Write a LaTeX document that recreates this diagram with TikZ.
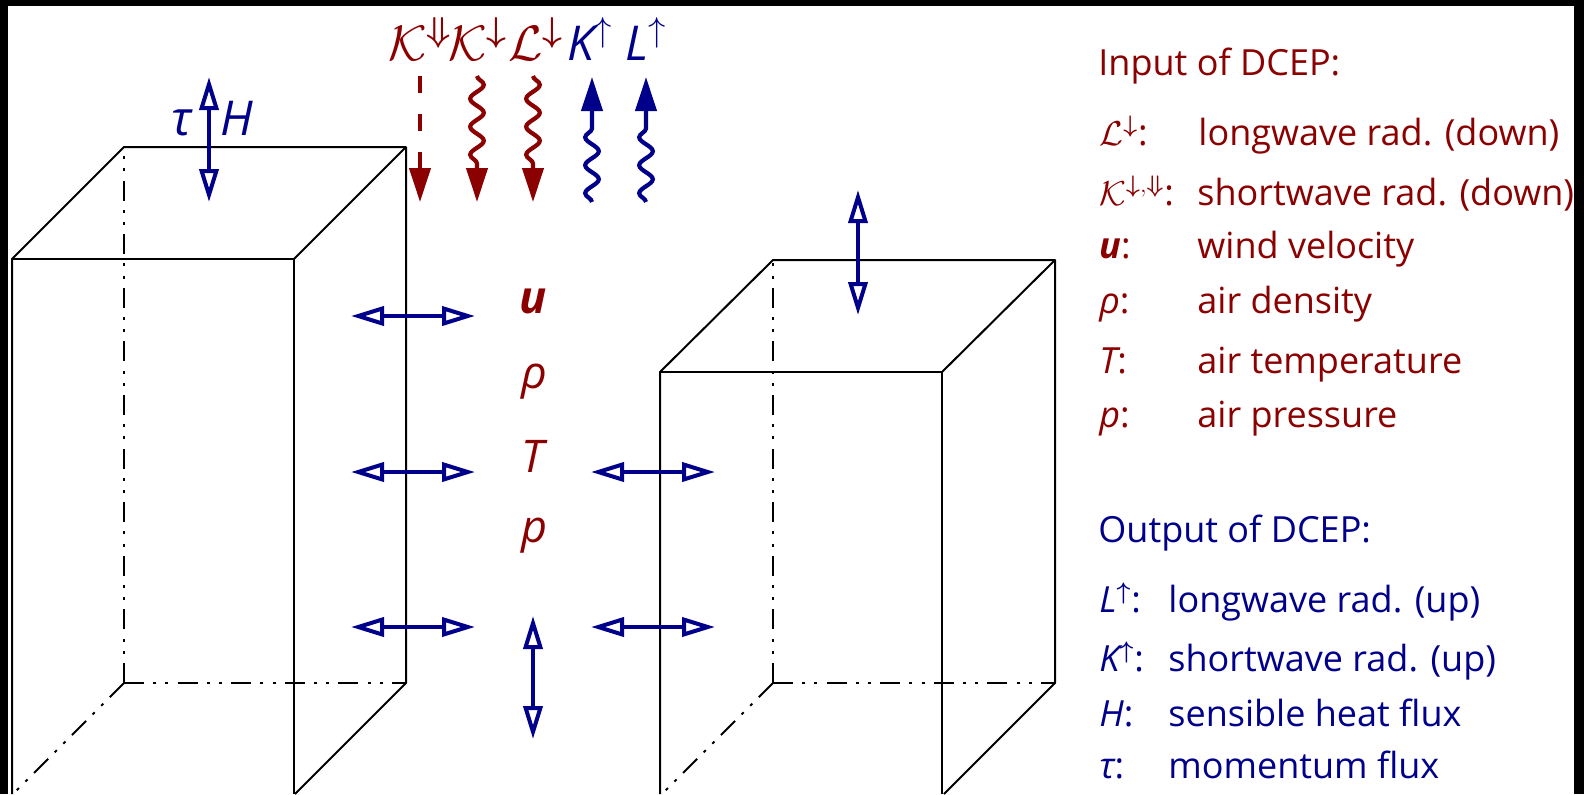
\documentclass[tikz,border=0pt]{standalone}
\usepackage{amsmath}
\usepackage{fontspec}
\setmainfont{Open Sans}
\usetikzlibrary{arrows.meta,decorations.pathmorphing}
\definecolor{inred}{HTML}{8B0000}
\definecolor{outblue}{HTML}{00008B}
\begin{document}
\begin{tikzpicture}[x=0.5pt, y=-0.5pt, font=\fontsize{18pt}{22pt}\selectfont,
      edge/.style={draw, line width=1pt, line join=round},
      hidden/.style={edge, dash pattern=on 10pt off 4.6pt on 1.5pt off 4.6pt on 1.5pt off 4.6pt},
      flux/.style={draw=outblue, line width=2.1pt, {Triangle[open, length=16.5pt, width=9.5pt, line width=2pt]}-{Triangle[open, length=16.5pt, width=9.5pt, line width=2pt]}},
      rad/.style={line width=2.1pt, -{Triangle[length=17pt, width=10.5pt]}},
      wave/.style={rad, decorate, decoration={snake, amplitude=3.4pt, segment length=14pt, post length=19pt}},
      sym/.style={anchor=base, inner sep=0pt, text=#1, font=\fontsize{24pt}{28pt}\selectfont},
      air/.style={sym=inred, font=\fontsize{22.5pt}{28pt}\selectfont},
      txt/.style={anchor=base west, inner sep=0pt, text=#1}]
      \useasboundingbox (0,0) rectangle (1584,794);
      \fill[black] (0,0) rectangle (1584,794);
      \fill[white] (8,6) rectangle (1574,794);
      % left building
      \coordinate (aftl) at (12,259);   \coordinate (aftr) at (294,259);
      \coordinate (abtl) at (124,147);  \coordinate (abtr) at (406,147);
      \coordinate (abbl) at (124,683);  \coordinate (abbr) at (406,683);
      \coordinate (afbl) at (12,794);   \coordinate (afbr) at (294,794);
      \coordinate (afbd) at (13,794);   \coordinate (afbe) at (295,794);
      \draw[edge] (afbl) -- (aftl) -- (abtl) -- (abtr) -- (abbr) -- (afbe);
      \draw[edge] (aftl) -- (aftr) -- (afbr);   \draw[edge] (aftr) -- (abtr);
      \draw[hidden] (abbl) -- (abtl);  \draw[hidden] (abbl) -- (abbr);  \draw[hidden] (abbl) -- (afbd);
      % right building
      \coordinate (bftl) at (660,372);  \coordinate (bftr) at (942,372);
      \coordinate (bbtl) at (773,260);  \coordinate (bbtr) at (1055,260);
      \coordinate (bbbl) at (773,683);  \coordinate (bbbr) at (1055,683);
      \coordinate (bfbl) at (660,794);  \coordinate (bfbr) at (942,794);
      \coordinate (bfbd) at (662,794);  \coordinate (bfbe) at (944,794);
      \draw[edge] (bfbl) -- (bftl) -- (bbtl) -- (bbtr) -- (bbbr) -- (bfbe);
      \draw[edge] (bftl) -- (bftr) -- (bfbr);   \draw[edge] (bftr) -- (bbtr);
      \draw[hidden] (bbbl) -- (bbtl);  \draw[hidden] (bbbl) -- (bbbr);  \draw[hidden] (bbbl) -- (bfbd);
      % radiation
      \coordinate (kdd0) at (420,76);  \coordinate (kdd1) at (420,202);
      \coordinate (kd0) at (477,76);   \coordinate (kd1) at (477,202);
      \coordinate (ld0) at (533,76);   \coordinate (ld1) at (533,202);
      \coordinate (ku0) at (592,202);  \coordinate (ku1) at (592,77);
      \coordinate (lu0) at (646,202);  \coordinate (lu1) at (646,77);
      \draw[rad, inred, dash pattern=on 8.5pt off 10.5pt] (kdd0) -- (kdd1);
      \draw[wave, inred] (kd0) -- (kd1);   \draw[wave, inred] (ld0) -- (ld1);
      \draw[wave, outblue] (ku0) -- (ku1); \draw[wave, outblue] (lu0) -- (lu1);
      \node[sym=inred] (kdd) at (420,60) {$\mathcal{K}^{\boldsymbol{\Downarrow}}$};
      \node[sym=inred] (kd)  at (478,60) {$\mathcal{K}^{\boldsymbol{\downarrow}}$};
      \node[sym=inred] (ld)  at (536,60) {$\mathcal{L}^{\boldsymbol{\downarrow}}$};
      \node[sym=outblue] (ku) at (590,60) {{\itshape K}$^{\uparrow}$};
      \node[sym=outblue] (lu) at (646,60) {{\itshape L}$^{\uparrow}$};
      % fluxes
      \coordinate (ta) at (209,77);    \coordinate (tb) at (209,202);
      \coordinate (ra) at (858,190);   \coordinate (rb) at (858,315);
      \coordinate (ga) at (533,616);   \coordinate (gb) at (533,739);
      \draw[flux] (ta) -- (tb);  \draw[flux] (ra) -- (rb);  \draw[flux] (ga) -- (gb);
      \coordinate (h1a) at (351,316);  \coordinate (h1b) at (475,316);
      \coordinate (h2a) at (351,472);  \coordinate (h2b) at (475,472);
      \coordinate (h3a) at (351,627);  \coordinate (h3b) at (475,627);
      \coordinate (h4a) at (591,472);  \coordinate (h4b) at (715,472);
      \coordinate (h5a) at (591,627);  \coordinate (h5b) at (715,627);
      \draw[flux] (h1a) -- (h1b);  \draw[flux] (h2a) -- (h2b);  \draw[flux] (h3a) -- (h3b);
      \draw[flux] (h4a) -- (h4b);  \draw[flux] (h5a) -- (h5b);
      \node[sym=outblue] (tau) at (182,135) {\itshape τ};
      \node[sym=outblue] (hh)  at (237,135) {\itshape H};
      % air state
      \node[air] (uu)  at (533,313) {\bfseries\itshape u};
      \node[air] (rho) at (534,388) {\itshape ρ};
      \node[air] (tt)  at (533,472) {\itshape T};
      \node[air] (pp)  at (534,542) {\itshape p};
      % input list
      \node[txt=inred] (inh) at (1098,75)  {Input of DCEP:};
      \node[txt=inred] (i1)  at (1099,145) {$\mathcal{L}^{\boldsymbol{\downarrow}}$:};
      \node[txt=inred] (i1t) at (1198,145) {longwave rad. (down)};
      \node[txt=inred] (i2)  at (1099,205) {$\mathcal{K}^{\boldsymbol{\downarrow},\boldsymbol{\Downarrow}}$:};
      \node[txt=inred] (i2t) at (1197,205) {shortwave rad. (down)};
      \node[txt=inred] (i3)  at (1099,258) {{\bfseries\itshape u}:};
      \node[txt=inred] (i3t) at (1197,258) {wind velocity};
      \node[txt=inred] (i4)  at (1099,313) {{\itshape ρ}:};
      \node[txt=inred] (i4t) at (1197,313) {air density};
      \node[txt=inred] (i5)  at (1099,373) {{\itshape T}:};
      \node[txt=inred] (i5t) at (1197,373) {air temperature};
      \node[txt=inred] (i6)  at (1099,427) {{\itshape p}:};
      \node[txt=inred] (i6t) at (1197,427) {air pressure};
      % output list
      \node[txt=outblue] (outh) at (1098,542) {Output of DCEP:};
      \node[txt=outblue] (o1)  at (1099,612) {{\itshape L}$^{\boldsymbol{\uparrow}}$:};
      \node[txt=outblue] (o1t) at (1168,612) {longwave rad. (up)};
      \node[txt=outblue] (o2)  at (1099,671) {{\itshape K}$^{\boldsymbol{\uparrow}}$:};
      \node[txt=outblue] (o2t) at (1168,671) {shortwave rad. (up)};
      \node[txt=outblue] (o3)  at (1099,726) {{\itshape H}:};
      \node[txt=outblue] (o3t) at (1168,726) {sensible heat flux};
      \node[txt=outblue] (o4)  at (1099,778) {{\itshape τ}:};
      \node[txt=outblue] (o4t) at (1168,778) {momentum flux};
    \end{tikzpicture}
\end{document}
